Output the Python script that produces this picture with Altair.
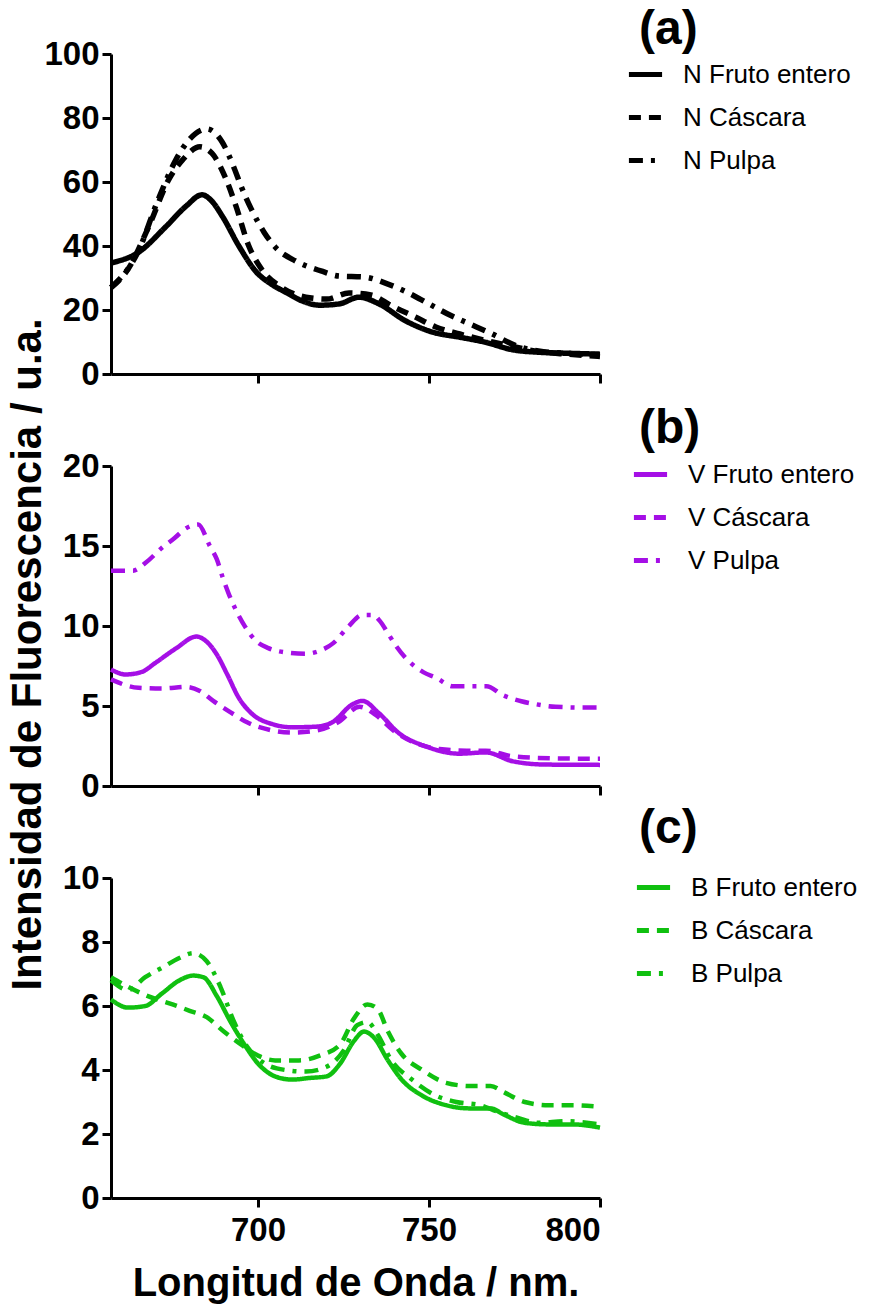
import altair as alt
import pandas as pd

# ---------------- Panel (a) : N ----------------
a_names = ["N Fruto entero", "N Cáscara", "N Pulpa"]
a_fruto_x = [657, 665, 673, 679, 683.6, 686.5, 689.5, 694.4, 699.4, 704, 708, 713, 718, 723.7, 729.5, 735.4, 743, 751, 759, 766.6, 774.3, 782, 790, 800]
a_fruto_y = [34.7, 38, 46, 52.5, 56, 54, 49.4, 40, 32, 28, 25.6, 22.8, 21.5, 21.9, 24, 21.9, 16.7, 13.1, 11.5, 9.9, 7.6, 6.8, 6.5, 6.2]
a_casc_x = [657, 662, 668, 674, 678, 683, 686.5, 690.6, 693.5, 697.3, 701, 707, 714, 720, 726.6, 733, 739, 746, 752, 759, 768.5, 775.5, 782, 790, 800]
a_casc_y = [27, 32.8, 46, 61, 67, 71, 69, 61, 52.6, 40, 32.8, 27, 24, 23.4, 25.3, 24.7, 21.3, 17.8, 14.7, 12.5, 10, 8.4, 7, 6.25, 5.5]
a_pulp_x = [657, 665, 670.5, 676, 680, 685, 689.5, 693, 695, 698, 701.7, 705, 711, 718.4, 723.7, 731, 738, 743.5, 750, 756.7, 762, 768.5, 775.5, 782, 790, 800]
a_pulp_y = [27, 38.4, 53.7, 67, 73.4, 76.6, 72.5, 64.4, 58.8, 51.6, 44.4, 39.7, 35.3, 32.2, 30.6, 30.3, 28.1, 25.6, 21.9, 18.1, 15.6, 12.5, 8.8, 7.2, 6.5, 6.0]

# ---------------- Panel (b) : V ----------------
b_names = ["V Fruto entero", "V Cáscara", "V Pulpa"]
b_fruto_x = [657, 661.3, 666, 670, 676, 682, 684.7, 688, 691, 694.4, 698.3, 704, 710, 717, 721.7, 727.6, 730.5, 735.4, 741.2, 749, 758.8, 766.6, 774.4, 784, 800]
b_fruto_y = [7.28, 6.97, 7.13, 7.7, 8.6, 9.34, 9.07, 8.2, 6.97, 5.5, 4.5, 3.88, 3.67, 3.71, 3.98, 5.1, 5.32, 4.54, 3.3, 2.48, 2.02, 2.1, 1.55, 1.34, 1.32]
b_casc_x = [657, 665, 672, 679, 683, 687, 692, 696.8, 703.6, 710, 717, 723.4, 729.7, 734.4, 740, 753, 761, 766.6, 774.4, 788, 800]
b_casc_y = [6.66, 6.14, 6.1, 6.19, 5.94, 5.3, 4.6, 3.98, 3.5, 3.34, 3.46, 3.98, 4.95, 4.44, 3.4, 2.31, 2.21, 2.21, 1.86, 1.72, 1.7]
b_pulp_x = [657, 663.4, 667.3, 671.7, 675.6, 678.9, 682.5, 685.9, 687.9, 689.8, 691.6, 693.3, 696.2, 699.4, 703, 707.4, 713.8, 718, 722, 726.4, 730.5, 733.6, 735.6, 738, 740.3, 743.9, 748.3, 752.2, 757, 762.4, 766.8, 771.6, 777, 781, 787, 796.3, 800]
b_pulp_y = [13.46, 13.46, 13.98, 14.85, 15.5, 16.1, 16.35, 15.0, 14.19, 12.95, 11.92, 11.1, 9.96, 9.07, 8.62, 8.37, 8.27, 8.45, 8.93, 9.96, 10.69, 10.69, 10.32, 9.54, 8.77, 7.84, 7.12, 6.75, 6.23, 6.23, 6.23, 5.68, 5.3, 5.12, 4.95, 4.9, 4.9]

# ---------------- Panel (c) : B ----------------
c_names = ["B Fruto entero", "B Cáscara", "B Pulpa"]
c_fruto_x = [657, 662, 667, 672, 677, 681, 684, 688, 692, 696, 700, 705, 710, 715, 720, 724, 728, 731, 734, 738, 742, 748, 755, 762, 768, 772, 778, 785, 792, 800]
c_fruto_y = [6.2, 5.95, 6.0, 6.4, 6.8, 6.95, 6.9, 6.3, 5.5, 4.8, 4.2, 3.8, 3.7, 3.75, 3.8, 4.2, 4.9, 5.2, 5.0, 4.3, 3.7, 3.2, 2.9, 2.8, 2.8, 2.6, 2.35, 2.3, 2.3, 2.2]
c_casc_x = [657, 662, 668, 675, 680, 685, 690, 695, 700, 705, 712, 718, 724, 728, 732, 735, 738, 742, 748, 755, 762, 768, 772, 778, 785, 792, 800]
c_casc_y = [6.9, 6.6, 6.3, 6.05, 5.85, 5.65, 5.2, 4.8, 4.45, 4.3, 4.3, 4.45, 4.8, 5.6, 6.05, 5.9, 5.2, 4.5, 4.0, 3.6, 3.5, 3.5, 3.3, 3.0, 2.9, 2.9, 2.85]
c_pulp_x = [657, 662, 667, 672, 677, 681, 685, 689, 693, 697, 702, 708, 714, 720, 725, 729, 732, 735, 739, 745, 752, 758, 765, 770, 776, 782, 790, 800]
c_pulp_y = [6.8, 6.5, 6.9, 7.2, 7.5, 7.65, 7.4, 6.6, 5.5, 4.7, 4.2, 4.0, 3.95, 4.1, 4.6, 5.4, 5.5, 5.1, 4.3, 3.7, 3.2, 3.0, 2.9, 2.7, 2.5, 2.35, 2.4, 2.3]

X_DOMAIN = [657, 800]
X_TICKS = [700, 750, 800]
DASHES = [[1, 0], [12, 8], [14, 8, 4, 8]]
FONT = "Liberation Sans"


def frame(names, xs_list, ys_list):
    rows = []
    for name, xs, ys in zip(names, xs_list, ys_list):
        for x, y in zip(xs, ys):
            rows.append({"wl": x, "val": y, "series": name})
    return pd.DataFrame(rows)


def panel(df, names, color, dom, ticks, letter, lw, lx, ly, tdx, toff,
          x_labels, x_title):
    x_axis = alt.Axis(values=X_TICKS, labels=x_labels, title=x_title, labelPadding=7,
                      titleFontSize=40, titleFontWeight="bold", titlePadding=16,
                      titleFont=FONT, titleColor="black")
    y_axis = alt.Axis(values=ticks, title=None)
    return alt.Chart(df).mark_line(
        interpolate="monotone", strokeWidth=lw, strokeCap="butt", color=color
    ).encode(
        x=alt.X("wl:Q", scale=alt.Scale(domain=X_DOMAIN, nice=False, zero=False), axis=x_axis),
        y=alt.Y("val:Q", scale=alt.Scale(domain=dom, nice=False), axis=y_axis),
        strokeDash=alt.StrokeDash(
            "series:N",
            scale=alt.Scale(domain=names, range=DASHES),
            sort=names,
            legend=alt.Legend(
                orient="none", legendX=lx, legendY=ly, title=None,
                symbolType="stroke", symbolStrokeWidth=5, symbolSize=1100,
                symbolStrokeColor=color,
                labelFontSize=26, labelFont=FONT, labelColor="black", labelLimit=400,
                labelOffset=18, rowPadding=10,
            ),
        ),
    ).properties(
        width=489, height=320,
        title=alt.TitleParams(text=letter, anchor="start", frame="group",
                              dx=tdx, offset=toff, fontSize=48, fontWeight="bold",
                              font=FONT, color="black"),
    )


df_a = frame(a_names, [a_fruto_x, a_casc_x, a_pulp_x], [a_fruto_y, a_casc_y, a_pulp_y])
df_b = frame(b_names, [b_fruto_x, b_casc_x, b_pulp_x], [b_fruto_y, b_casc_y, b_pulp_y])
df_c = frame(c_names, [c_fruto_x, c_casc_x, c_pulp_x], [c_fruto_y, c_casc_y, c_pulp_y])

pa = panel(df_a, a_names, "#000000", [0, 100], [0, 20, 40, 60, 80, 100], "(a)", 5.5,
           515, 1, 528, -16, False, None)
pb = panel(df_b, b_names, "#A50FE6", [0, 20], [0, 5, 10, 15, 20], "(b)", 4.5,
           520, -11, 528, -3, False, None)
pc = panel(df_c, c_names, "#10C010", [0, 10], [0, 2, 4, 6, 8, 10], "(c)", 4.5,
           523, -10, 528, 9, True, "Longitud de Onda / nm.")

chart = alt.VConcatChart(
    vconcat=[pa, pb, pc], spacing=92, bounds="flush",
    padding={"left": 6, "top": 6, "right": 5, "bottom": 5},
    title=alt.TitleParams(text="Intensidad de Fluorescencia / u.a.", orient="left",
                          anchor="middle", fontSize=42, fontWeight="bold",
                          font=FONT, color="black", offset=-6),
).resolve_scale(
    y="independent", strokeDash="independent"
).resolve_legend(
    strokeDash="independent"
).configure_view(
    stroke=None
).configure_axis(
    domainWidth=3, domainColor="black", tickWidth=3, tickColor="black", tickSize=9,
    labelFont=FONT, labelFontWeight="bold", labelFontSize=33, labelColor="black",
    labelPadding=3, grid=False,
)

chart.save("out.html", embed_options={"renderer": "svg", "actions": False})
